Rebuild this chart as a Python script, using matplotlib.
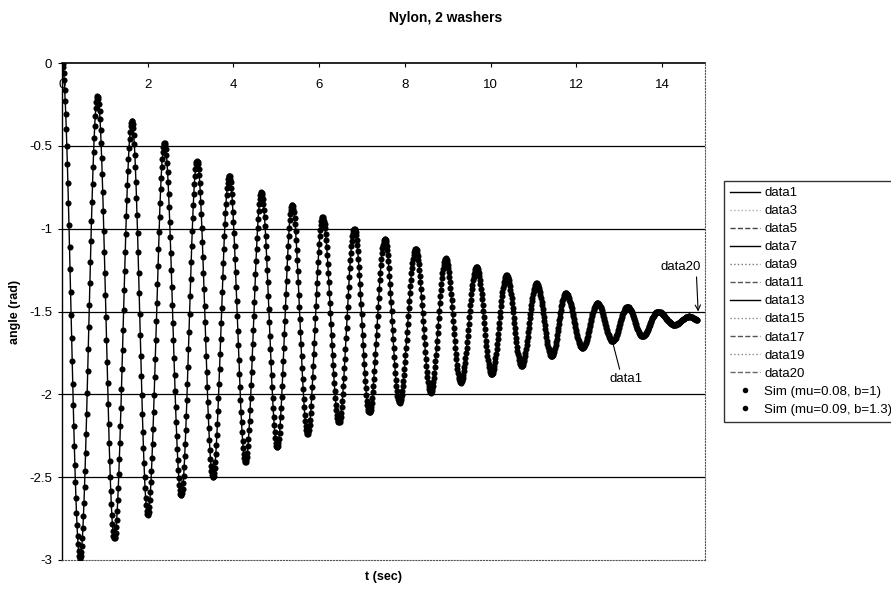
import matplotlib
matplotlib.use('Agg')  # sin pantalla

import matplotlib.pyplot as plt
from matplotlib.lines import Line2D
import numpy as np

# Extremos (picos y valles): t en s, angulo en rad
t_ext = [0.00, 0.42, 0.83, 1.22, 1.63, 2.00, 2.39, 2.78, 3.15, 3.52,
         3.90, 4.28, 4.65, 5.02, 5.37, 5.73, 6.08, 6.46, 6.82, 7.17,
         7.53, 7.87, 8.25, 8.60, 8.95, 9.30, 9.67, 10.02, 10.37, 10.72,
         11.07, 11.42, 11.75, 12.14, 12.49, 12.84, 13.19, 13.54, 13.90, 14.28,
         14.63, 14.83]
a_ext = [0.00, -2.99, -0.20, -2.87, -0.35, -2.73, -0.48, -2.61, -0.59, -2.50,
         -0.68, -2.41, -0.78, -2.32, -0.855, -2.24, -0.93, -2.17, -1.00, -2.11,
         -1.06, -2.05, -1.12, -1.99, -1.18, -1.93, -1.23, -1.88, -1.28, -1.83,
         -1.33, -1.77, -1.39, -1.72, -1.45, -1.68, -1.47, -1.65, -1.50, -1.58,
         -1.53, -1.55]

data_names = ['data1', 'data3', 'data5', 'data7', 'data9', 'data11',
              'data13', 'data15', 'data17', 'data19', 'data20']
sim_names = ['Sim (mu=0.08, b=1)', 'Sim (mu=0.09, b=1.3)']

x_ticks = [0, 2, 4, 6, 8, 10, 12, 14]
x_tick_labels = ['0', '2', '4', '6', '8', '10', '12', '14']
y_ticks = [0, -0.5, -1, -1.5, -2, -2.5, -3]
y_tick_labels = ['0', '-0.5', '-1', '-1.5', '-2', '-2.5', '-3']

# estilos de la leyenda (color, estilo de linea)
data_styles = [('black', '-'), ('#aaaaaa', ':'), ('#444444', '--'), ('black', '-'),
               ('#777777', ':'), ('#555555', '--'), ('black', '-'), ('#888888', ':'),
               ('#555555', '--'), ('#888888', ':'), ('#666666', '--')]

t_ext = np.array(t_ext)
a_ext = np.array(a_ext)


def suave(tq):
    # trazo suave (medio coseno) entre extremos consecutivos
    i = np.clip(np.searchsorted(t_ext, tq, side='right') - 1, 0, len(t_ext) - 2)
    t0, t1 = t_ext[i], t_ext[i + 1]
    a0, a1 = a_ext[i], a_ext[i + 1]
    s = np.clip((tq - t0) / (t1 - t0), 0, 1)
    return a0 + (a1 - a0) * (1 - np.cos(np.pi * s)) / 2


plt.rcParams['font.family'] = ['Liberation Sans', 'DejaVu Sans']

fig = plt.figure(figsize=(8.91, 5.97), dpi=100)
ax = fig.add_axes([62 / 891, 1 - 560 / 597, (705 - 62) / 891, (560 - 63) / 597])

# lineas de datos
t_line = np.linspace(t_ext[0], t_ext[-1], 4000)
ax.plot(t_line, suave(t_line), color='black', lw=1.0, zorder=3)

# simulaciones (puntos)
dt = 0.025
t_sim1 = np.arange(t_ext[0], t_ext[-1], dt)
t_sim2 = np.arange(t_ext[0] + dt / 2, t_ext[-1], dt)
ax.plot(t_sim1, suave(t_sim1), 'o', color='black', ms=4.4, mew=0, zorder=4)
ax.plot(t_sim2, suave(t_sim2), 'o', color='black', ms=4.4, mew=0, zorder=4)

ax.set_xlim(0, 15)
ax.set_ylim(-3, 0)

# rejilla horizontal
for y in y_ticks[1:-1]:
    ax.axhline(y, color='black', lw=0.9, zorder=1)

ax.set_yticks(y_ticks)
ax.set_yticklabels(y_tick_labels)
ax.set_xticks(x_ticks)
ax.set_xticklabels(x_tick_labels)
ax.tick_params(axis='x', top=True, bottom=False, labeltop=True, labelbottom=False,
               direction='in', length=3, pad=-20, labelsize=9.5)
ax.tick_params(axis='y', direction='out', length=3, labelsize=9.5, pad=4)

ax.spines['top'].set_linewidth(1.2)
ax.spines['left'].set_linewidth(1.0)
ax.spines['right'].set_linestyle(':')
ax.spines['right'].set_color('#555555')
ax.spines['bottom'].set_linestyle(':')
ax.spines['bottom'].set_color('#555555')

ax.set_ylabel('angle (rad)', fontsize=9, fontweight='bold', labelpad=6)
ax.set_xlabel('t (sec)', fontsize=9, fontweight='bold', labelpad=8)
fig.text(0.5, 1 - 18 / 597, 'Nylon, 2 washers', ha='center', va='center',
         fontsize=10, fontweight='bold')

# anotaciones
ax.annotate('data20', xy=(14.84, -1.50), xytext=(14.44, -1.23), fontsize=9.5,
            ha='center', va='center',
            arrowprops=dict(arrowstyle='->', color='black', lw=0.8,
                            shrinkA=1, shrinkB=0, relpos=(0.88, 0)), zorder=6)
ax.annotate('data1', xy=(12.85, -1.69), xytext=(13.15, -1.91), fontsize=9.5,
            ha='center', va='center',
            arrowprops=dict(arrowstyle='-', color='black', lw=0.8,
                            shrinkA=1, shrinkB=0, relpos=(0.35, 1)), zorder=6)

# leyenda
handles = [Line2D([], [], color=c, ls=ls, lw=1.0) for c, ls in data_styles]
handles += [Line2D([], [], color='black', marker='o', ls='none', ms=4, mew=0)
            for _ in sim_names]
leg = fig.legend(handles, data_names + sim_names, loc='upper left',
                 bbox_to_anchor=(724 / 891, 1 - 181 / 597), fontsize=9.5,
                 frameon=True, fancybox=False, borderaxespad=0,
                 handlelength=2.3, handletextpad=0.3, labelspacing=0.44,
                 borderpad=0.45)
leg.get_frame().set_edgecolor('black')
leg.get_frame().set_linewidth(1.0)

fig.savefig('out.png', dpi=100)
